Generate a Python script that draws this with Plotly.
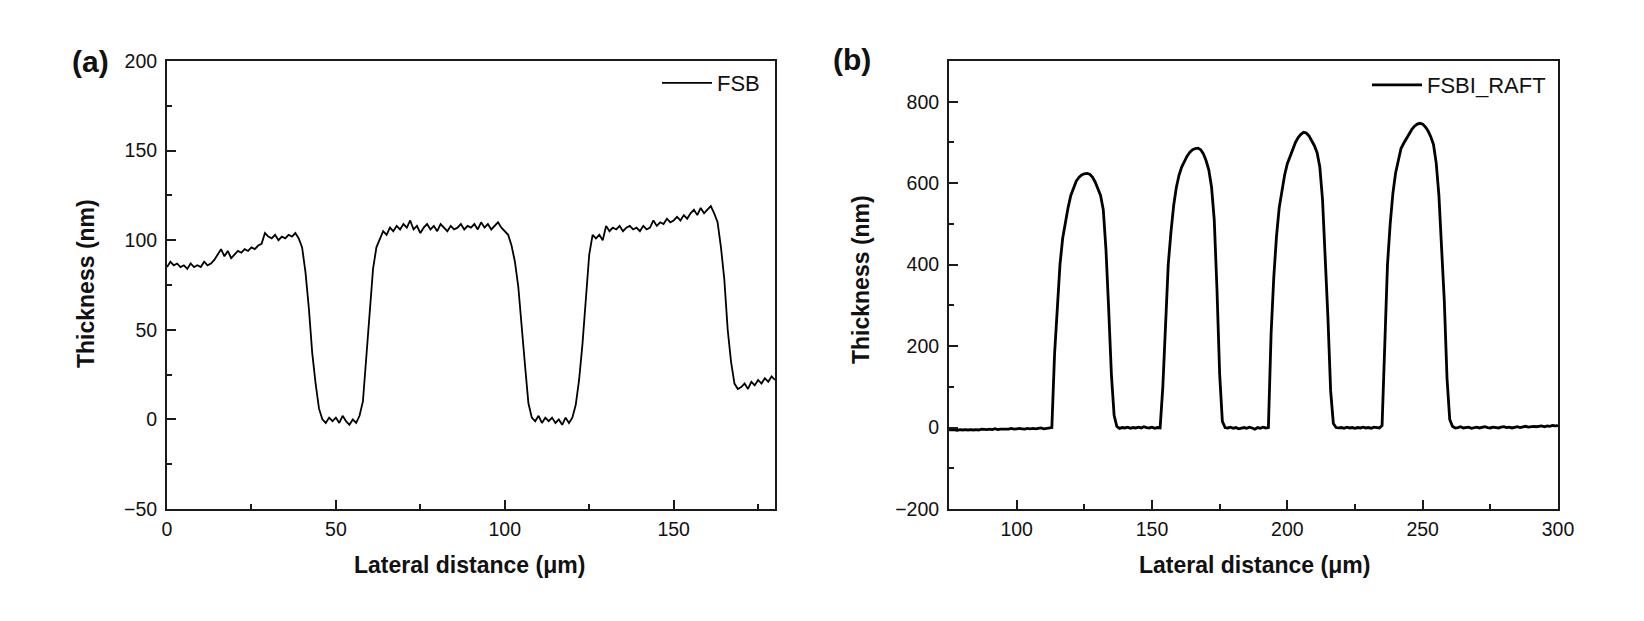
import plotly.graph_objects as go

# ---------------- data ----------------
# Panel (a): FSB profile, sampled every 1 µm from 0 to 180 µm
fsb_x_start = 0
fsb_thickness = [
    85, 88, 86, 87, 85, 86, 84, 87, 85, 86,
    85, 88, 86, 87, 89, 92, 95, 91, 94, 90,
    92, 94, 93, 95, 94, 96, 95, 97, 98, 104,
    102, 101, 103, 100, 102, 101, 103, 102, 104, 101,
    96, 82, 62, 37, 20, 6, 0, -2, 1, -1,
    1, -2, 2, -1, -3, 0, -2, 2, 10, 33,
    60, 84, 96, 101, 105, 103, 107, 105, 108, 106,
    109, 107, 111, 106, 108, 104, 107, 109, 106, 108,
    105, 109, 107, 105, 108, 106, 107, 109, 106, 108,
    107, 109, 106, 110, 107, 109, 106, 108, 110, 107,
    105, 103, 97, 88, 74, 54, 30, 9, 1, -1,
    2, -2, 1, -1, 1, -2, 0, -3, 1, -2,
    1, 8, 22, 42, 70, 92, 103, 101, 103, 100,
    108, 105, 107, 106, 108, 105, 107, 108, 106, 107,
    105, 108, 106, 107, 111, 108, 110, 109, 112, 110,
    111, 113, 111, 114, 112, 115, 117, 114, 118, 115,
    117, 119, 115, 110, 96, 78, 50, 32, 20, 17,
    18, 20, 17, 21, 19, 22, 20, 23, 21, 24,
    22,
]
fsb_x = [fsb_x_start + i for i in range(len(fsb_thickness))]

# Panel (b): FSBI_RAFT profile, sampled every 1 µm from 75 to 300 µm
raft_x_start = 75
raft_thickness = [
    -6, -5, -6, -7, -5, -6, -5, -6, -5, -6,
    -5, -6, -4, -5, -5, -4, -5, -3, -5, -4,
    -4, -3, -4, -2, -4, -3, -2, -3, -4, -2,
    -3, -2, -3, -2, -1, -3, -2, -2, 0, 180,
    300, 400, 465, 505, 540, 570, 590, 605, 614, 620,
    623, 624, 622, 615, 603, 588, 570, 535, 436, 290,
    130, 30, 3, -2, 0, -1, 1, -2, 0, -1,
    1, -1, 2, 0, -1, 1, -2, 0, -1, 100,
    270, 400, 480, 545, 590, 620, 640, 655, 667, 676,
    682, 685, 686, 682, 672, 655, 632, 590, 510, 340,
    130, 15, 0, -1, 1, -2, 0, -3, -1, 0,
    -2, 1, -1, -4, 0, -2, 1, -1, 0, 230,
    370, 470, 540, 585, 620, 648, 665, 685, 700, 712,
    720, 725, 723, 716, 705, 692, 675, 640, 560, 420,
    270, 90, 10, 0, -1, 0, -2, 1, -1, 0,
    -2, 0, -1, 1, -1, 0, -2, 1, 0, -1,
    5, 230, 400, 500, 575, 625, 660, 685, 698, 710,
    722, 732, 740, 745, 747, 745, 738, 728, 714, 695,
    650, 570, 440, 310, 120, 20, 3, -1, 0, 2,
    -1, 0, 1, -2, 0, 1, -1, 0, 2, 0,
    -1, 1, 0, -1, 1, 2, 0, 1, -1, 1,
    2, 0, 1, 3, 1, 2, 3, 2, 3, 4,
    2, 4, 3, 5, 4, 5,
]
raft_x = [raft_x_start + i for i in range(len(raft_thickness))]

series_names = ["FSB", "FSBI_RAFT"]
panel_labels = ["(a)", "(b)"]
x_title = "Lateral distance (μm)"
y_title = "Thickness (nm)"
a_xticks = [0, 50, 100, 150]
a_yticks = [-50, 0, 50, 100, 150, 200]
b_xticks = [100, 150, 200, 250, 300]
b_yticks = [-200, 0, 200, 400, 600, 800]

# ---------------- figure ----------------
W, H = 1644, 621
OFF = 8  # page body margin
FONT = "Arial, 'Liberation Sans', sans-serif"

fig = go.Figure()
fig.add_trace(go.Scatter(x=fsb_x, y=fsb_thickness, mode="lines", name=series_names[0],
                         line=dict(color="black", width=1.8), xaxis="x", yaxis="y",
                         legend="legend"))
fig.add_trace(go.Scatter(x=raft_x, y=raft_thickness, mode="lines", name=series_names[1],
                         line=dict(color="black", width=2.8), xaxis="x2", yaxis="y2",
                         legend="legend2"))

def px_x(p):
    return (p - OFF) / W

def px_y(p):
    return 1 - (p - OFF) / H

ydom = [px_y(509), px_y(61)]

axis_common = dict(
    showline=True, linecolor="#1a1a1a", linewidth=2, mirror=True,
    ticks="inside", ticklen=9, tickwidth=1.5, tickcolor="#1a1a1a",
    showgrid=False, zeroline=False, automargin=False,
    tickfont=dict(family=FONT, size=19.5, color="#111"),
)
minor_common = dict(ticks="inside", ticklen=5, tickwidth=1.5, tickcolor="#1a1a1a",
                    tick0=0, showgrid=False)

fig.update_layout(
    width=W, height=H,
    margin=dict(l=0, r=0, t=0, b=0, autoexpand=False),
    paper_bgcolor="white", plot_bgcolor="white",
    showlegend=True,
    xaxis=dict(domain=[px_x(167), px_x(775)], range=[0, 180], tickvals=a_xticks,
               minor=dict(dtick=25, **minor_common),
               anchor="y", ticklabelstandoff=2, **axis_common),
    yaxis=dict(domain=ydom, range=[-50, 200], tickvals=a_yticks,
               minor=dict(dtick=25, **minor_common),
               anchor="x", ticklabelstandoff=4, **axis_common),
    xaxis2=dict(domain=[px_x(949), px_x(1558)], range=[75, 300], tickvals=b_xticks,
                minor=dict(dtick=25, **minor_common),
                anchor="y2", ticklabelstandoff=2, **axis_common),
    yaxis2=dict(domain=ydom, range=[-200, 900], tickvals=b_yticks,
                minor=dict(dtick=100, **minor_common),
                anchor="x2", ticklabelstandoff=4, **axis_common),
    legend=dict(x=px_x(657), y=px_y(62), xanchor="left", yanchor="top",
                bgcolor="rgba(0,0,0,0)", borderwidth=0, itemwidth=50,
                font=dict(family=FONT, size=22, color="#111")),
    legend2=dict(x=px_x(1367), y=px_y(64), xanchor="left", yanchor="top",
                 bgcolor="rgba(0,0,0,0)", borderwidth=0, itemwidth=50,
                 font=dict(family=FONT, size=22, color="#111")),
)

annots = [
    dict(text=x_title, x=px_x(469), y=px_y(565)),
    dict(text=x_title, x=px_x(1254), y=px_y(565)),
    dict(text=y_title, x=px_x(86), y=px_y(284), textangle=-90),
    dict(text=y_title, x=px_x(861), y=px_y(279), textangle=-90),
]
for a in annots:
    fig.add_annotation(xref="paper", yref="paper", showarrow=False,
                       xanchor="center", yanchor="middle",
                       font=dict(family=FONT, size=23, color="#111", weight="bold"), **a)

fig.add_annotation(text=panel_labels[0], xref="paper", yref="paper", x=px_x(90), y=px_y(61),
                   xanchor="center", yanchor="middle", showarrow=False,
                   font=dict(family=FONT, size=30, color="#111", weight="bold"))
fig.add_annotation(text=panel_labels[1], xref="paper", yref="paper", x=px_x(852), y=px_y(59),
                   xanchor="center", yanchor="middle", showarrow=False,
                   font=dict(family=FONT, size=30, color="#111", weight="bold"))

fig.write_html("out.html")
